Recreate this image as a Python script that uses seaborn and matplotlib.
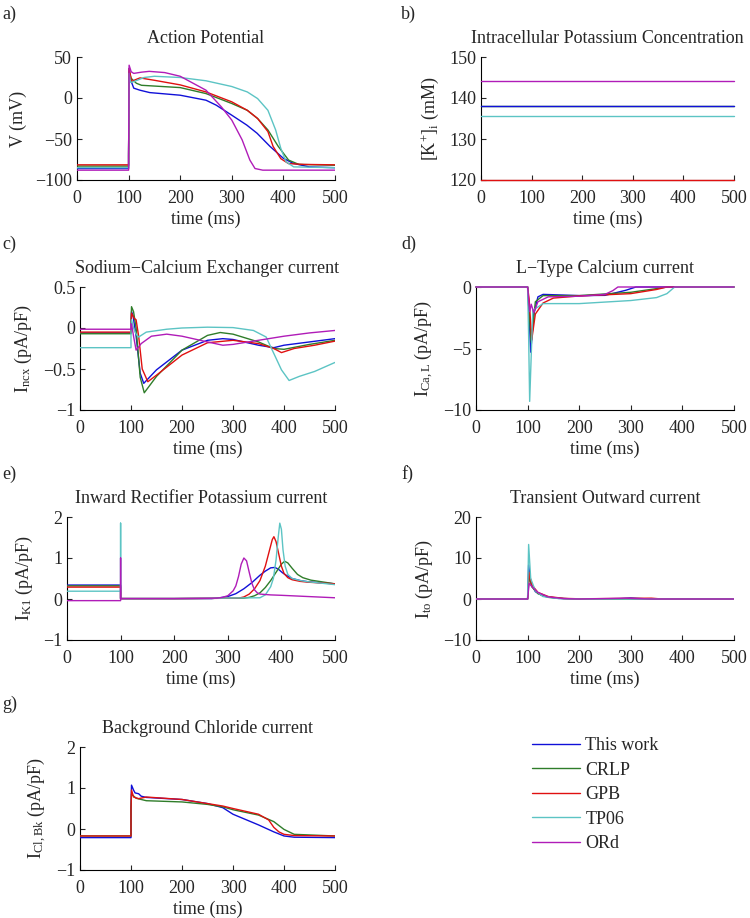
import matplotlib
matplotlib.use("Agg")
import matplotlib.pyplot as plt
import seaborn as sns

models = ["This work", "CRLP", "GPB", "TP06", "ORd"]
colors = ["#1010d8", "#2f7d2a", "#e01010", "#5cc4c4", "#b01cb8"]

# --- a) action potential (ms, mV)
ap_t_work = [0, 100, 100, 101, 104, 110, 122, 141, 200, 250, 270, 300, 329, 349, 374, 400, 419, 450, 500]
ap_v_work = [-86, -86, -70, 36, 22, 12, 9.5, 6.6, 3.4, -2.7, -8.8, -21, -33, -43, -59, -73.6, -79.7, -84, -85]
ap_t_crlp = [0, 100, 100, 101, 105, 115, 125, 200, 250, 300, 330, 350, 370, 390, 410, 430, 500]
ap_v_crlp = [-83, -83, -70, 32, 24, 18, 15.5, 12.7, 5.4, -6.7, -15, -25, -39, -59, -75.7, -81, -82]
ap_t_gpb = [0, 100, 100, 101, 106, 112, 122, 150, 200, 250, 300, 330, 350, 370, 380, 395, 410, 440, 500]
ap_v_gpb = [-81.5, -81.5, -70, 36, 20, 22, 24.5, 21.6, 16, 7.4, -4.7, -15, -25, -41, -59, -74, -80, -81, -81.5]
ap_t_tp06 = [0, 100, 100, 101, 104, 110, 130, 150, 200, 250, 300, 330, 350, 370, 385, 395, 405, 420, 500]
ap_v_tp06 = [-85, -85, -70, 30, 19, 20, 25, 26.5, 25, 21, 14, 7.4, -0.7, -15, -39, -61.5, -77.7, -84, -85]
ap_t_ord = [0, 100, 100, 101, 105, 110, 125, 140, 170, 200, 250, 280, 300, 320, 335, 345, 360, 500]
ap_v_ord = [-88, -88, -70, 40, 32, 30, 31.5, 32.5, 31, 26.5, 9.5, -11, -27, -51, -75.7, -86, -88, -88]

# --- b) intracellular potassium (mM)
ki_t = [0, 500]
ki_work = [138, 138]
ki_crlp = [138, 138]
ki_gpb = [120, 120]
ki_tp06 = [135.7, 135.7]
ki_ord = [144.2, 144.2]

# --- c) sodium-calcium exchanger (pA/pF)
ncx_t_work = [0, 100, 100, 101, 104, 110, 118, 125, 150, 200, 250, 280, 300, 350, 380, 400, 450, 500]
ncx_v_work = [-0.06, -0.06, 0, 0.2, 0.15, -0.1, -0.55, -0.675, -0.51, -0.27, -0.15, -0.13, -0.14, -0.21, -0.24, -0.21, -0.17, -0.13]
ncx_t_crlp = [0, 100, 100, 101, 105, 110, 118, 126, 150, 200, 250, 275, 300, 350, 380, 400, 450, 500]
ncx_v_crlp = [-0.07, -0.07, 0, 0.26, 0.2, 0.0, -0.6, -0.79, -0.59, -0.27, -0.09, -0.055, -0.075, -0.17, -0.25, -0.26, -0.2, -0.15]
ncx_t_gpb = [0, 100, 100, 101, 106, 110, 115, 122, 133, 150, 200, 250, 300, 350, 380, 395, 420, 460, 500]
ncx_v_gpb = [-0.05, -0.05, 0, 0.18, 0.12, 0.1, -0.1, -0.5, -0.655, -0.575, -0.33, -0.18, -0.15, -0.19, -0.25, -0.30, -0.25, -0.21, -0.16]
ncx_t_tp06 = [0, 100, 100, 101, 105, 110, 115, 130, 170, 200, 250, 300, 340, 365, 380, 395, 410, 430, 460, 500]
ncx_v_tp06 = [-0.24, -0.24, 0, 0.1, 0.0, -0.075, -0.11, -0.05, -0.015, 0.0, 0.01, 0.005, -0.03, -0.11, -0.31, -0.51, -0.64, -0.59, -0.53, -0.42]
ncx_t_ord = [0, 100, 100, 101, 105, 110, 120, 140, 170, 200, 250, 280, 300, 340, 370, 400, 450, 500]
ncx_v_ord = [-0.015, -0.015, 0.05, 0.05, -0.1, -0.27, -0.19, -0.1, -0.075, -0.1, -0.17, -0.21, -0.2, -0.16, -0.13, -0.1, -0.06, -0.03]

# --- d) L-type calcium (pA/pF)
cal_t_work = [0, 100, 102, 106, 112, 120, 130, 200, 250, 290, 310, 500]
cal_v_work = [0, 0, -1.5, -5.3, -2.2, -0.8, -0.6, -0.7, -0.68, -0.27, 0, 0]
cal_t_crlp = [0, 100, 102, 107, 115, 130, 200, 300, 350, 370, 500]
cal_v_crlp = [0, 0, -1.5, -4.5, -1.2, -0.7, -0.7, -0.43, -0.13, 0, 0]
cal_t_gpb = [0, 100, 103, 108, 115, 130, 150, 200, 300, 350, 370, 500]
cal_v_gpb = [0, 0, -1.0, -4.3, -2.2, -1.3, -0.9, -0.73, -0.54, -0.2, 0, 0]
cal_t_tp06 = [0, 100, 102, 104, 110, 130, 200, 300, 350, 370, 385, 500]
cal_v_tp06 = [0, 0, -4, -9.3, -1.9, -1.35, -1.35, -1.1, -0.86, -0.54, 0, 0]
cal_t_ord = [0, 100, 104, 107, 112, 120, 140, 200, 250, 265, 275, 500]
cal_v_ord = [0, 0, -2.0, -1.4, -2.1, -1.2, -0.8, -0.75, -0.6, -0.3, 0, 0]

# --- e) inward rectifier potassium (pA/pF)
ik1_t_work = [0, 100, 100, 105, 200, 270, 285, 300, 315, 330, 345, 360, 370, 380, 388, 395, 402, 410, 420, 435, 450, 500]
ik1_v_work = [0.34, 0.34, 0.01, 0.01, 0.01, 0.01, 0.03, 0.06, 0.13, 0.25, 0.4, 0.58, 0.68, 0.76, 0.77, 0.72, 0.64, 0.57, 0.5, 0.45, 0.42, 0.37]
ik1_t_crlp = [0, 100, 100, 105, 200, 330, 340, 350, 360, 370, 380, 390, 400, 406, 412, 420, 430, 440, 455, 470, 500]
ik1_v_crlp = [0.32, 0.32, 0.01, 0.01, 0.01, 0.02, 0.04, 0.08, 0.15, 0.28, 0.45, 0.65, 0.85, 0.92, 0.88, 0.75, 0.6, 0.52, 0.46, 0.43, 0.37]
ik1_t_gpb = [0, 100, 100, 105, 200, 320, 330, 340, 350, 360, 370, 378, 383, 386, 390, 395, 400, 405, 412, 420, 435, 450, 500]
ik1_v_gpb = [0.29, 0.29, 0.01, 0.01, 0.01, 0.02, 0.05, 0.12, 0.25, 0.45, 0.8, 1.2, 1.45, 1.52, 1.4, 1.1, 0.8, 0.62, 0.52, 0.47, 0.43, 0.41, 0.37]
ik1_t_tp06 = [0, 100, 100, 100, 105, 200, 360, 370, 380, 385, 390, 394, 397, 400, 403, 407, 412, 420, 435, 450, 500]
ik1_v_tp06 = [0.19, 0.19, 1.85, 0.01, 0.01, 0.01, 0.03, 0.1, 0.3, 0.5, 0.95, 1.5, 1.85, 1.7, 1.2, 0.8, 0.6, 0.5, 0.45, 0.42, 0.35]
ik1_t_ord = [0, 100, 100, 100, 105, 200, 280, 290, 300, 310, 315, 320, 325, 330, 335, 340, 345, 350, 355, 360, 380, 400, 450, 500]
ik1_v_ord = [-0.04, -0.04, 1.0, 0.01, 0.01, 0.01, 0.02, 0.04, 0.08, 0.2, 0.32, 0.55, 0.85, 1.0, 0.93, 0.65, 0.38, 0.22, 0.15, 0.12, 0.1, 0.09, 0.06, 0.03]

# --- f) transient outward (pA/pF)
ito_t_work = [0, 100, 102, 106, 115, 130, 160, 200, 280, 300, 330, 350, 500]
ito_v_work = [0, 0, 8.3, 4, 1.8, 0.7, 0.15, 0, 0.1, 0.25, 0.05, 0, 0]
ito_t_crlp = [0, 100, 103, 108, 120, 140, 170, 200, 500]
ito_v_crlp = [0, 0, 5.5, 3, 1.3, 0.4, 0.1, 0, 0]
ito_t_gpb = [0, 100, 103, 108, 120, 140, 170, 200, 300, 340, 360, 500]
ito_v_gpb = [0, 0, 6.5, 3.5, 1.6, 0.6, 0.15, 0.05, 0.15, 0.2, 0, 0]
ito_t_tp06 = [0, 100, 102, 106, 115, 130, 160, 200, 500]
ito_v_tp06 = [0, 0, 13.3, 5, 2, 0.6, 0.1, 0, 0]
ito_t_ord = [0, 100, 103, 110, 120, 140, 170, 200, 290, 310, 340, 500]
ito_v_ord = [0, 0, 3.8, 2.8, 1.6, 0.5, 0.1, 0, 0.2, 0.1, 0, 0]

# --- g) background chloride (pA/pF), only three models
clb_t_work = [0, 100, 100, 101, 105, 108, 115, 120, 130, 200, 250, 280, 300, 350, 380, 400, 420, 500]
clb_v_work = [-0.21, -0.21, 0.5, 1.07, 0.95, 0.88, 0.86, 0.8, 0.77, 0.72, 0.62, 0.52, 0.36, 0.1, -0.07, -0.17, -0.2, -0.21]
clb_t_crlp = [0, 100, 100, 101, 110, 130, 200, 250, 280, 300, 350, 380, 400, 420, 500]
clb_v_crlp = [-0.17, -0.17, 0.5, 0.85, 0.75, 0.69, 0.66, 0.6, 0.54, 0.47, 0.34, 0.18, -0.01, -0.13, -0.17]
clb_t_gpb = [0, 100, 100, 101, 105, 115, 130, 200, 250, 280, 300, 350, 370, 380, 390, 400, 420, 500]
clb_v_gpb = [-0.17, -0.17, 0.5, 0.95, 0.78, 0.74, 0.78, 0.72, 0.62, 0.56, 0.5, 0.36, 0.22, 0.04, -0.07, -0.13, -0.16, -0.17]

time_ticks = [0, 100, 200, 300, 400, 500]

sns.set_style("white")
plt.rcParams["font.family"] = ["Liberation Serif", "DejaVu Serif"]
plt.rcParams["mathtext.fontset"] = "custom"
plt.rcParams["mathtext.rm"] = "Liberation Serif"
plt.rcParams["mathtext.it"] = "Liberation Serif:italic"
plt.rcParams["mathtext.bf"] = "Liberation Serif:bold"
fs = 13

fig = plt.figure(figsize=(7.5, 9.18), dpi=100)


def make_axes(px_left, px_right, px_top, px_bottom):
    W, H = 750, 918
    return fig.add_axes([px_left / W, 1 - px_bottom / H,
                         (px_right - px_left) / W, (px_bottom - px_top) / H])


def draw(ax, t, v, i, clip=True):
    sns.lineplot(x=t, y=v, ax=ax, color=colors[i], linewidth=1.0,
                 estimator=None, sort=False, label=models[i], legend=False)
    ax.lines[-1].set_zorder(3)
    if not clip:
        ax.lines[-1].set_clip_on(False)


def style(ax, title, ylabel, ylim, yticks, ylabels=None):
    ax.set_xlim(0, 500)
    ax.set_ylim(*ylim)
    ax.set_xticks(time_ticks)
    ax.set_yticks(yticks)
    if ylabels is not None:
        ax.set_yticklabels(ylabels)
    ax.set_title(title, fontsize=fs, pad=10)
    ax.set_xlabel("time (ms)", fontsize=fs, labelpad=2)
    ax.set_ylabel(ylabel, fontsize=fs, labelpad=6)
    ax.tick_params(direction="in", length=3.5, width=0.8, labelsize=fs,
                   left=True, bottom=True)
    ax.tick_params(axis="x", pad=7.5)
    ax.tick_params(axis="y", pad=3.5)
    sns.despine(ax=ax)
    for s in ["left", "bottom"]:
        ax.spines[s].set_linewidth(0.8)
        ax.spines[s].set_color("black")


# a)
ax = make_axes(77, 335, 57, 180)
for i, (t, v) in enumerate([(ap_t_work, ap_v_work), (ap_t_crlp, ap_v_crlp), (ap_t_gpb, ap_v_gpb),
                            (ap_t_tp06, ap_v_tp06), (ap_t_ord, ap_v_ord)]):
    draw(ax, t, v, i)
style(ax, "Action Potential", "V (mV)", (-100, 50), [-100, -50, 0, 50])

# b)
ax = make_axes(481, 734, 57, 180)
for idx, v in zip([1, 0, 2, 3, 4], [ki_crlp, ki_work, ki_gpb, ki_tp06, ki_ord]):
    draw(ax, ki_t, v, idx, clip=False)
style(ax, "Intracellular Potassium Concentration", r"[K$^{+}$]$_{\mathrm{i}}$ (mM)",
      (120, 150), [120, 130, 140, 150])

# c)
ax = make_axes(80, 335, 287, 410)
for i, (t, v) in enumerate([(ncx_t_work, ncx_v_work), (ncx_t_crlp, ncx_v_crlp), (ncx_t_gpb, ncx_v_gpb),
                            (ncx_t_tp06, ncx_v_tp06), (ncx_t_ord, ncx_v_ord)]):
    draw(ax, t, v, i)
style(ax, "Sodium\u2212Calcium Exchanger current", r"I$_{\mathrm{ncx}}$ (pA/pF)",
      (-1, 0.5), [-1, -0.5, 0, 0.5], ["\u22121", "\u22120.5", "0", "0.5"])

# d)
ax = make_axes(476, 734, 287, 410)
for i, (t, v) in enumerate([(cal_t_work, cal_v_work), (cal_t_crlp, cal_v_crlp), (cal_t_gpb, cal_v_gpb),
                            (cal_t_tp06, cal_v_tp06), (cal_t_ord, cal_v_ord)]):
    draw(ax, t, v, i, clip=False)
style(ax, "L\u2212Type Calcium current", r"I$_{\mathrm{Ca,L}}$ (pA/pF)", (-10, 0), [-10, -5, 0])

# e)
ax = make_axes(67, 335, 517, 640)
for i, (t, v) in enumerate([(ik1_t_work, ik1_v_work), (ik1_t_crlp, ik1_v_crlp), (ik1_t_gpb, ik1_v_gpb),
                            (ik1_t_tp06, ik1_v_tp06), (ik1_t_ord, ik1_v_ord)]):
    draw(ax, t, v, i)
style(ax, "Inward Rectifier Potassium current", r"I$_{\mathrm{K1}}$ (pA/pF)", (-1, 2), [-1, 0, 1, 2])

# f)
ax = make_axes(476, 734, 517, 640)
for i, (t, v) in enumerate([(ito_t_work, ito_v_work), (ito_t_crlp, ito_v_crlp), (ito_t_gpb, ito_v_gpb),
                            (ito_t_tp06, ito_v_tp06), (ito_t_ord, ito_v_ord)]):
    draw(ax, t, v, i)
style(ax, "Transient Outward current", r"I$_{\mathrm{to}}$ (pA/pF)", (-10, 20), [-10, 0, 10, 20])

# g)
ax = make_axes(80, 335, 747, 870)
for i, (t, v) in enumerate([(clb_t_work, clb_v_work), (clb_t_crlp, clb_v_crlp), (clb_t_gpb, clb_v_gpb)]):
    draw(ax, t, v, i)
style(ax, "Background Chloride current", r"I$_{\mathrm{Cl,Bk}}$ (pA/pF)", (-1, 2), [-1, 0, 1, 2])

# panel letters
for letter, x, y in [("a)", 2, 14), ("b)", 401, 14), ("c)", 2, 244), ("d)", 401, 244),
                     ("e)", 2, 474), ("f)", 401, 474), ("g)", 2, 704)]:
    fig.text(x / 750, 1 - y / 918, letter, fontsize=fs, ha="left", va="center")

# legend in the empty slot
handles = [plt.Line2D([], [], color=c, linewidth=1.0) for c in colors]
fig.legend(handles, models, loc="upper left", bbox_to_anchor=(532 / 750, 1 - 737 / 918),
           frameon=False, fontsize=fs, handlelength=2.65, handletextpad=0.3,
           labelspacing=0.42, borderpad=0, borderaxespad=0)

fig.savefig("out.png", dpi=100)
